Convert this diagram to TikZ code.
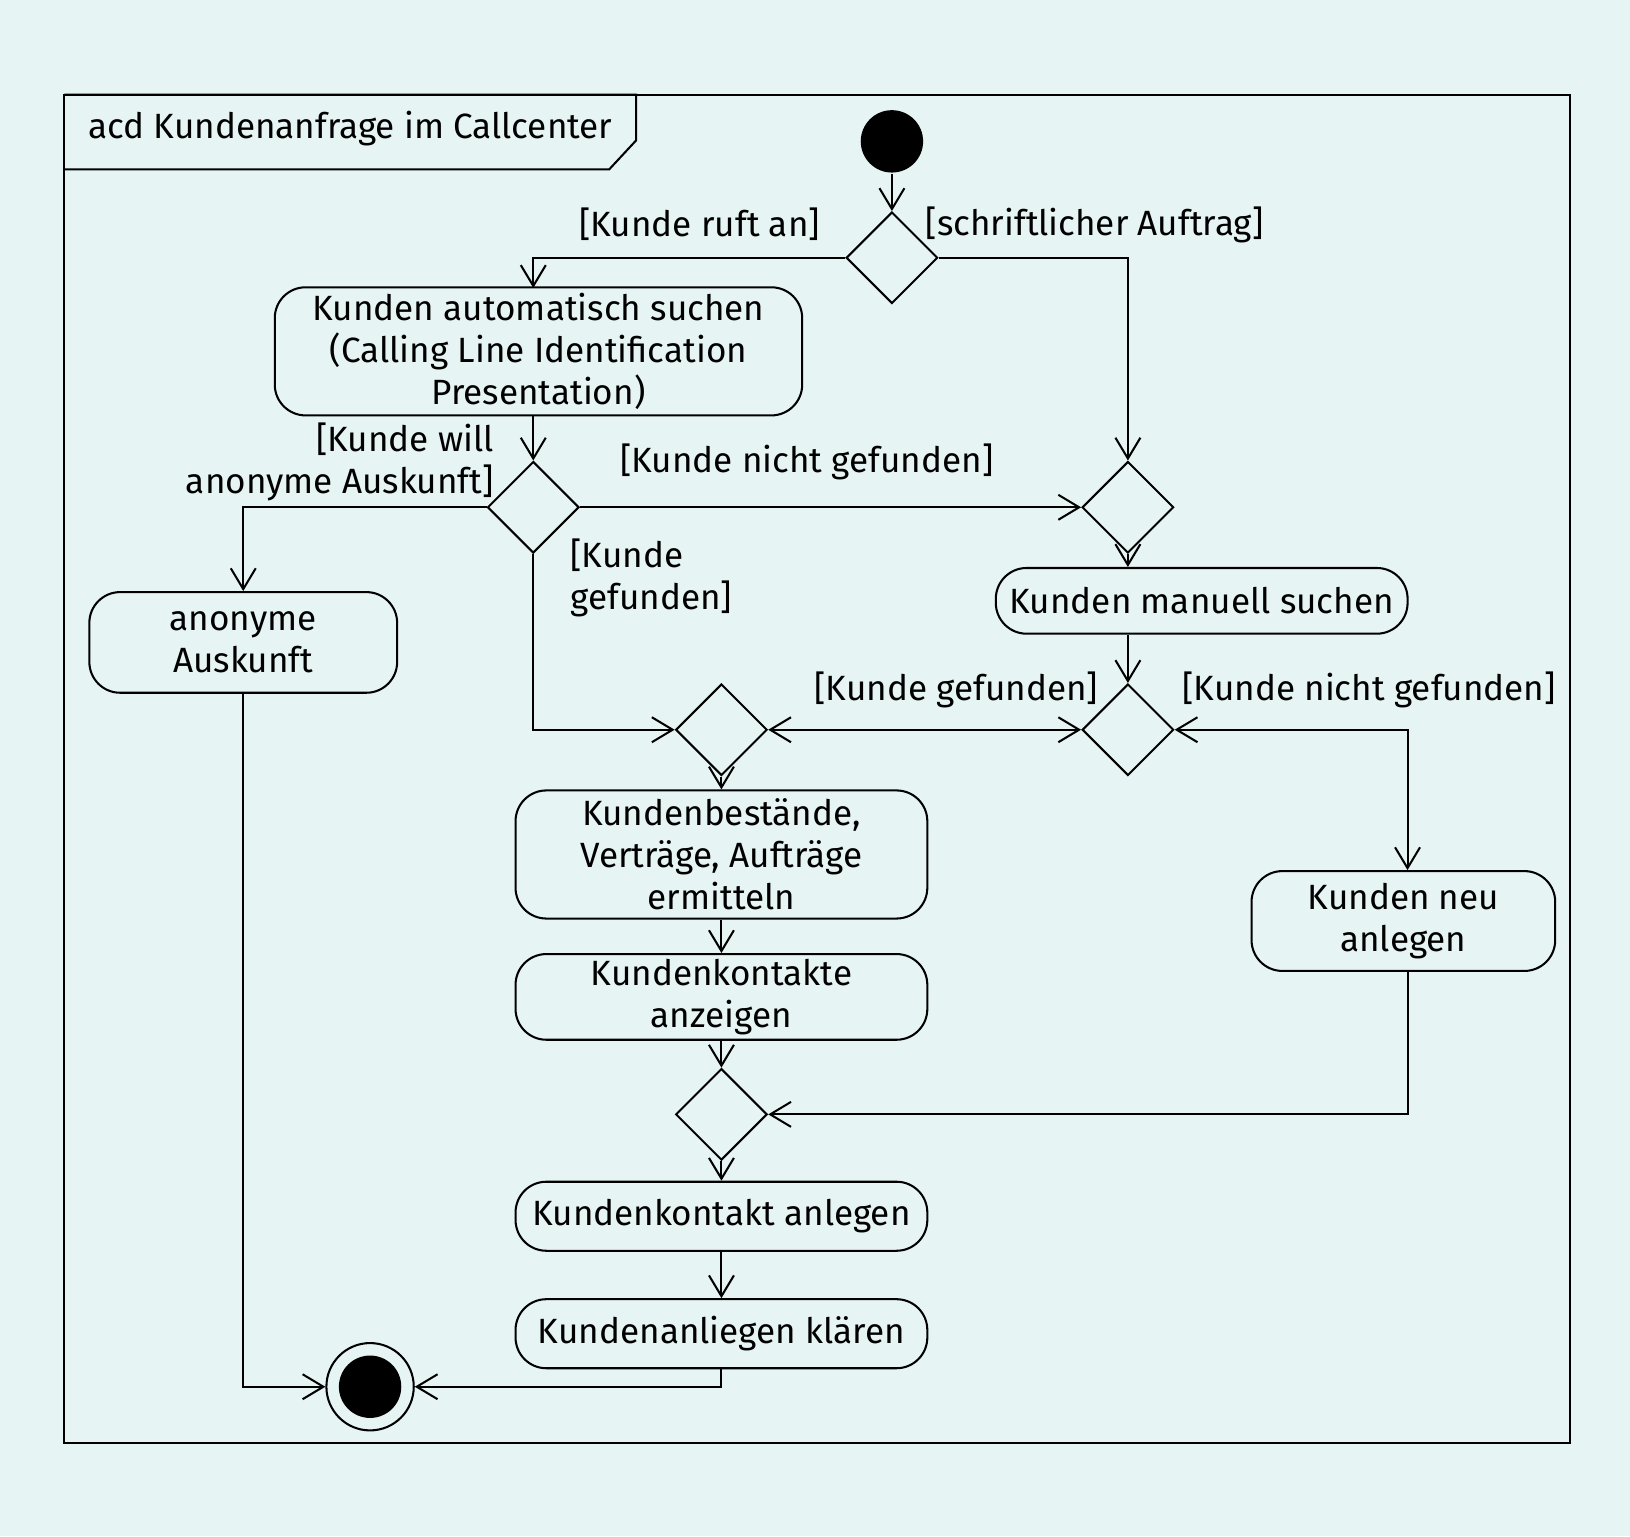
\documentclass[tikz,border=0pt]{standalone}
\usepackage{fontspec}
\setmainfont{Fira Sans}
\usetikzlibrary{shapes.geometric,arrows.meta,positioning}
\definecolor{bgcol}{HTML}{E6F4F4}
\tikzset{
  act/.style={draw,rounded corners=0.37cm,align=center,inner sep=1pt},
  dec/.style={draw,diamond,inner sep=0pt,minimum size=1.1cm,fill=bgcol},
  lbl/.style={inner sep=0pt,align=center},
  flow/.style={-{Straight Barb[length=2.5mm,width=3mm]}},
}
\begin{document}
\begin{tikzpicture}[x=0.0125cm,y=-0.0125cm,line width=0.7pt,font=\fontsize{12}{14.4}\selectfont]
\fill[bgcol] (0,0) rectangle (1568,1478);
\useasboundingbox (0,0) rectangle (1568,1478);
% frame
\draw (62,91) rectangle (1510,1388);
\draw (62,91) -- (612,91) -- (612,135) -- (586,163) -- (62,163);
\node[lbl] (title) at (337,124) {acd Kundenanfrage im Callcenter};

% nodes
\node[circle,fill=black,minimum size=0.75cm,inner sep=0pt] (start) at (858,136) {};
\node[dec] (D1) at (858,248) {};
\node[act,minimum width=6.34cm,minimum height=1.54cm] (A1) at (518,338)
  {Kunden automatisch suchen\\(Calling Line Identification\\Presentation)};
\node[dec] (D2) at (513,488) {};
\node[dec] (D3) at (1085,488) {};
\node[act,minimum width=4.95cm,minimum height=0.79cm] (A2) at (1156,578) {Kunden manuell suchen};
\node[act,minimum width=3.7cm,minimum height=1.21cm] (A3) at (234,618) {anonyme\\Auskunft};
\node[dec] (D4) at (1085,702) {};
\node[dec] (D5) at (694,702) {};
\node[act,minimum width=4.95cm,minimum height=1.54cm] (A4) at (694,822) {Kundenbestände,\\Verträge, Aufträge\\ermitteln};
\node[act,minimum width=4.95cm,minimum height=1.03cm] (A5) at (694,959) {Kundenkontakte\\anzeigen};
\node[act,minimum width=3.65cm,minimum height=1.2cm] (A6) at (1350,886) {Kunden neu\\anlegen};
\node[dec] (D6) at (694,1072) {};
\node[act,minimum width=4.95cm,minimum height=0.83cm] (A7) at (694,1170) {Kundenkontakt anlegen};
\node[act,minimum width=4.95cm,minimum height=0.83cm] (A8) at (694,1283) {Kundenanliegen klären};
\node[circle,draw,minimum size=1.05cm,inner sep=0pt] (end) at (356,1334) {};
\node[circle,fill=black,minimum size=0.75cm,inner sep=0pt] (endin) at (356,1334) {};

% guards
\node[lbl] (g1) at (673,216) {[Kunde ruft an]};
\node[lbl] (g2) at (1053,216) {[schriftlicher Auftrag]};
\node[lbl,align=right,anchor=east] (g3) at (476,444) {[Kunde will\\anonyme Auskunft]};
\node[lbl] (g4) at (776,444) {[Kunde nicht gefunden]};
\node[lbl,align=left,anchor=west] (g5) at (548,556) {[Kunde\\gefunden]};
\node[lbl] (g6) at (920,664) {[Kunde gefunden]};
\node[lbl] (g7) at (1317,664) {[Kunde nicht gefunden]};

% flows
\draw[flow] (start) -- (D1);
\draw[flow] (D1.west) -| (513,277);
\draw[flow] (D1.east) -| (D3.north);
\draw[flow] (513,400) -- (D2.north);
\draw[flow] (D2.west) -| (A3.north);
\draw[flow] (D2.east) -- (D3.west);
\draw[flow] (D2.south) |- (D5.west);
\draw[flow] (D3.south) -- (A2.north -| D3);
\draw[flow] (A2.south -| D4) -- (D4.north);
\draw[{Straight Barb[length=2.5mm,width=3mm]}-{Straight Barb[length=2.5mm,width=3mm]}] (D5.east) -- (D4.west);
\draw[{Straight Barb[length=2.5mm,width=3mm]}-{Straight Barb[length=2.5mm,width=3mm]}] (D4.east) -| (A6.north -| 1354,0);
\draw[flow] (D5.south) -- (A4.north);
\draw[flow] (A4.south) -- (A5.north);
\draw[flow] (A5.south) -- (D6.north);
\draw[flow] (A6.south -| 1354,0) |- (D6.east);
\draw[flow] (D6.south) -- (A7.north);
\draw[flow] (A7.south) -- (A8.north);
\draw[flow] (A8.south) |- (end.east);
\draw[flow] (A3.south) |- (end.west);
\end{tikzpicture}
\end{document}
